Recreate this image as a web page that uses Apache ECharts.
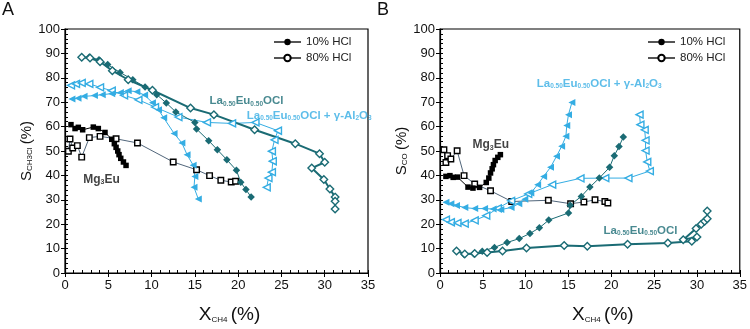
<!DOCTYPE html>
<html>
<head>
<meta charset="utf-8" />
<script src="https://cdn.jsdelivr.net/npm/echarts@6.0.0/dist/echarts.min.js"></script>
<style>
  html, body, #main { width: 100%; height: 100%; margin: 0; padding: 0; background: #fff; }
</style>
</head>
<body>
<div id="main"></div>
<script>
// panel A: S(CH3Cl) vs X(CH4), pairs are [X, S]
var aMg10 = [[0.69,60.8],[1.16,59.2],[1.54,59.7],[2.04,58.7],[3.27,59.8],[3.85,59.2],[4.62,57.6],[5.4,54.8],[5.7,53],[5.9,51.5],[6.09,50],[6.24,48.5],[6.44,47],[6.75,45.5],[7.05,44.1]];
var aMg80 = [[0.39,49.9],[0.58,54.9],[0.89,51.2],[1.43,52.2],[1.93,47.5],[2.81,55.5],[4.05,56],[5.9,55],[8.37,53.3],[12.5,45.5],[15.2,42.3],[16.7,39.9],[18,38],[19.2,37.3],[19.7,37.6]];
var aLa10 = [[2.81,88.5],[3.93,87.4],[4.93,85.4],[6.36,82.2],[7.83,79.2],[9.25,76.2],[10.6,73.1],[11.7,69.7],[12.8,66],[15.0,61.7],[15.2,59],[16.6,54.2],[17.6,50.5],[18.7,46.4],[19.8,42.1],[20.3,37.2],[20.9,34.2],[21.5,31.1]];
var aLa80 = [[1.93,88.4],[2.89,88.1],[4.05,86.6],[5.47,82.9],[7.3,79.2],[10.1,74.9],[14.5,67.6],[17.2,64.9],[21.9,58.7],[26.6,53],[29.4,48.9],[30.0,45.4],[28.5,43],[29.9,38.3],[30.6,34.4],[31.2,31.1],[31.2,29.4],[31.2,26.2]];
var aLaAl10 = [[0.8,71.3],[1.5,71.6],[2.2,72.4],[3.4,72.7],[4.3,73.1],[5.4,73.5],[6.4,74],[7.3,74.7],[8.3,74.3],[9.2,72.9],[10.1,69.8],[10.8,66.9],[11.4,63.6],[12.6,57.2],[13.5,53.3],[14.1,48.5],[14.8,44.2],[15.0,39.6],[14.9,35.1],[15.4,30.3]];
var aLaAl80 = [[0.69,76.9],[1.27,77.5],[1.93,77.9],[2.81,77.5],[4.05,76.1],[5.4,74.7],[6.82,72.8],[8.48,71],[10.4,68],[13.1,63.9],[16.4,61.7],[19.3,61.3],[22,61.7],[24.6,58.3],[24.2,54.6],[23.9,49.9],[24,45.8],[23.9,41.3],[23.5,38.9],[23.3,35.1]];

// panel B: S(CO) vs X(CH4)
var bMg10 = [[0.69,39.6],[1.16,39.9],[1.54,39.2],[2.04,39.3],[3.27,35.2],[3.85,34.8],[4.62,35.1],[5.4,37.1],[5.7,38.9],[5.9,41],[6.09,42.7],[6.24,44.4],[6.44,46.1],[6.75,47.4],[7.05,48.5]];
var bMg80 = [[0.46,50.5],[0.69,45.3],[0.89,48.1],[1.27,46.7],[2.0,50.1],[2.81,39.9],[4.05,36.5],[5.9,33.7],[8.37,29.3],[12.65,29.8],[15.25,28.4],[16.8,29.1],[18.1,30],[19.25,29.3],[19.6,28.7]];
var bLa10 = [[2.81,7.6],[3.93,7.9],[4.93,8.9],[6.36,10.5],[7.83,12.5],[9.25,14.1],[10.5,16.2],[11.6,18.5],[12.7,21.7],[15.0,24.6],[15.2,27.8],[16.5,31.4],[17.5,35.2],[18.6,38.9],[19.8,43.3],[20.35,48.1],[20.9,51.8],[21.4,55.7]];
var bLa80 = [[1.93,9.0],[2.89,7.8],[4.05,8.0],[5.5,8.4],[7.3,9.0],[10.1,10.2],[14.5,11.3],[17.2,11.0],[21.9,11.8],[26.6,12.3],[29.4,13.0],[30.0,14.8],[28.4,13.6],[29.9,18.2],[30.5,20.0],[30.9,21.2],[31.2,22.2],[31.2,25.4]];
var bLaAl10 = [[0.69,29],[1.27,28.4],[1.93,27.7],[2.9,26.8],[4.05,26.4],[5.2,26.4],[6.2,26.2],[7.1,26],[8.3,26.8],[9.2,28.4],[9.9,30.2],[10.6,32.8],[11.4,36.2],[12.1,39.6],[12.9,43.3],[13.6,47.8],[14.2,51.9],[14.7,56],[14.8,60.4],[15.0,64.9],[15.4,69.9]];
var bLaAl80 = [[0.69,21.9],[1.27,20.8],[2.04,20.5],[2.89,20.2],[4.05,21.6],[5.4,23.5],[6.75,26.5],[8.3,29.6],[10.3,32.4],[13.1,36.2],[16.4,38.8],[19.3,38.9],[22.0,38.9],[24.5,41.8],[24.2,45.5],[24.0,50.2],[24.0,54.4],[23.9,58.7],[23.4,60.8],[23.3,64.9]];

var legendNames = ['10% HCl', '80% HCl'];

var FONT = 'Liberation Sans, Arial, Helvetica, sans-serif';
var TEAL = '#1a6b74';
var BLUE = '#34ade3';
var SLATE = '#51667b';

var chart = echarts.init(document.getElementById('main'));

var LA = '{m|La}{s|0.50}{m|Eu}{s|0.50}{m|OCl}';
var LAAL = LA + '{m| + γ-Al}{s|2}{m|O}{s|3}';
var MG = '{b|Mg}{t|3}{b|Eu}';

function grid(left) {
    return { left: left, top: 29, width: 303, height: 244, show: true,
             borderColor: '#000', borderWidth: 1.2, backgroundColor: 'transparent' };
}

function xMain(g) {
    return {
        type: 'value', gridIndex: g, min: 0, max: 35, interval: 5, position: 'bottom',
        axisLine: { onZero: false, lineStyle: { color: '#000', width: 1.2 } },
        axisTick: { inside: false, length: 4, lineStyle: { color: '#000' } },
        axisLabel: { color: '#111', fontSize: 13, margin: 6, fontFamily: FONT },
        splitLine: { show: false },
        name: '{m|X}{s|CH4} {m|(%)}', nameLocation: 'middle', nameGap: 29,
        nameTextStyle: { color: '#111', padding: [0, 0, 0, 26], rich: {
            m: { fontFamily: FONT, fontSize: 19, verticalAlign: 'bottom', lineHeight: 22 },
            s: { fontFamily: FONT, fontSize: 8, verticalAlign: 'bottom', lineHeight: 16 }
        } }
    };
}
function xMinor(g) {
    return {
        type: 'value', gridIndex: g, min: 0, max: 35, interval: 1, position: 'bottom',
        axisLine: { show: false }, axisLabel: { show: false }, splitLine: { show: false },
        axisTick: { inside: true, length: 3, lineStyle: { color: '#000' } }
    };
}
function yMain(g, sub) {
    return {
        type: 'value', gridIndex: g, min: 0, max: 100, interval: 10, position: 'left',
        axisLine: { onZero: false, lineStyle: { color: '#000', width: 1.2 } },
        axisTick: { inside: false, length: 4, lineStyle: { color: '#000' } },
        axisLabel: { color: '#111', fontSize: 13, margin: 5, fontFamily: FONT },
        splitLine: { show: false },
        name: '{m|S}{s|' + sub + '} {m|(%)}', nameLocation: 'middle', nameGap: 31,
        nameTextStyle: { color: '#111', rich: {
            m: { fontFamily: FONT, fontSize: 15, verticalAlign: 'bottom', lineHeight: 18 },
            s: { fontFamily: FONT, fontSize: 8, verticalAlign: 'bottom', lineHeight: 13 }
        } }
    };
}
function yMinor(g) {
    return {
        type: 'value', gridIndex: g, min: 0, max: 100, interval: 2, position: 'left',
        axisLine: { show: false }, axisLabel: { show: false }, splitLine: { show: false },
        axisTick: { inside: true, length: 3, lineStyle: { color: '#000' } }
    };
}

// axes order: x [A main, A minor, B main, B minor], y same
function line(data, ax, sym, size, fill, stroke, lineColor, lineWidth, rot) {
    return {
        type: 'line', data: data, xAxisIndex: ax, yAxisIndex: ax,
        symbol: sym, symbolSize: size, symbolRotate: rot || 0, showSymbol: true,
        itemStyle: { color: fill, borderColor: stroke, borderWidth: fill === '#fff' ? 1.4 : 0 },
        lineStyle: { color: lineColor, width: lineWidth },
        emphasis: { disabled: true }, z: 3
    };
}

function notes(ax, items) {
    return {
        type: 'scatter', xAxisIndex: ax, yAxisIndex: ax, symbolSize: 0, silent: true, z: 5,
        data: items.map(function (it) {
            var c = it[3];
            return { value: [it[0], it[1]], label: {
                show: true, position: 'right', distance: 0, formatter: it[2], color: c,
                rich: {
                    m: { color: c, fontFamily: FONT, fontSize: 11.5, fontWeight: 'bold', verticalAlign: 'bottom', lineHeight: 15 },
                    s: { color: c, fontFamily: FONT, fontSize: 6.5, fontWeight: 'bold', verticalAlign: 'bottom', lineHeight: 13 },
                    b: { color: c, fontFamily: FONT, fontSize: 12, fontWeight: 'bold', verticalAlign: 'bottom', lineHeight: 15 },
                    t: { color: c, fontFamily: FONT, fontSize: 7, fontWeight: 'bold', verticalAlign: 'bottom', lineHeight: 13 }
                } } };
        })
    };
}

var series = [
    line(aMg80, 0, 'rect', 5.5, '#fff', '#000', SLATE, 1),
    line(aMg10, 0, 'rect', 5.5, '#000', '#000', '#000', 1),
    line(aLaAl80, 0, 'triangle', 7, '#fff', BLUE, BLUE, 1, 90),
    line(aLaAl10, 0, 'triangle', 7, BLUE, BLUE, BLUE, 1, 90),
    line(aLa10, 0, 'diamond', 7.5, TEAL, TEAL, TEAL, 1),
    line(aLa80, 0, 'diamond', 7.5, '#fff', TEAL, TEAL, 2),

    line(bMg80, 2, 'rect', 5.5, '#fff', '#000', SLATE, 1),
    line(bMg10, 2, 'rect', 5.5, '#000', '#000', '#000', 1),
    line(bLaAl80, 2, 'triangle', 7, '#fff', BLUE, BLUE, 1, 90),
    line(bLaAl10, 2, 'triangle', 7, BLUE, BLUE, BLUE, 1, 90),
    line(bLa10, 2, 'diamond', 7.5, TEAL, TEAL, TEAL, 1),
    line(bLa80, 2, 'diamond', 7.5, '#fff', TEAL, TEAL, 2),

    notes(0, [[16.7, 71, LA, TEAL], [21.0, 65, LAAL, BLUE], [2.1, 39, MG, '#111']]),
    notes(2, [[11.3, 78, LAAL, BLUE], [3.8, 53, MG, '#111'], [19.1, 18, LA, TEAL]]),

    // legend entries
    { type: 'line', name: legendNames[0], data: [], xAxisIndex: 0, yAxisIndex: 0,
      symbol: 'circle', symbolSize: 7, itemStyle: { color: '#000' }, lineStyle: { color: '#555', width: 1 } },
    { type: 'line', name: legendNames[1], data: [], xAxisIndex: 0, yAxisIndex: 0,
      symbol: 'circle', symbolSize: 7, itemStyle: { color: '#fff', borderColor: '#000', borderWidth: 1.4 },
      lineStyle: { color: '#555', width: 1 } }
];

function legend(left) {
    return {
        data: legendNames, orient: 'vertical', left: left, top: 36, padding: 0,
        itemWidth: 27, itemHeight: 8, itemGap: 4, selectedMode: false,
        textStyle: { fontFamily: FONT, fontSize: 11.5, color: '#222', padding: [0, 0, 0, 0] }
    };
}

chart.setOption({
    animation: false,
    backgroundColor: '#fff',
    title: [
        { text: 'A', left: 2, top: 1, padding: 0, textStyle: { fontFamily: FONT, fontSize: 18, fontWeight: 'normal', color: '#111' } },
        { text: 'B', left: 377, top: 1, padding: 0, textStyle: { fontFamily: FONT, fontSize: 18, fontWeight: 'normal', color: '#111' } }
    ],
    legend: [legend(273), legend(647)],
    grid: [grid(65), grid(440)],
    xAxis: [xMain(0), xMinor(0), xMain(1), xMinor(1)],
    yAxis: [yMain(0, 'CH3Cl'), yMinor(0), yMain(1, 'CO'), yMinor(1)],
    series: series
});
</script>
</body>
</html>
